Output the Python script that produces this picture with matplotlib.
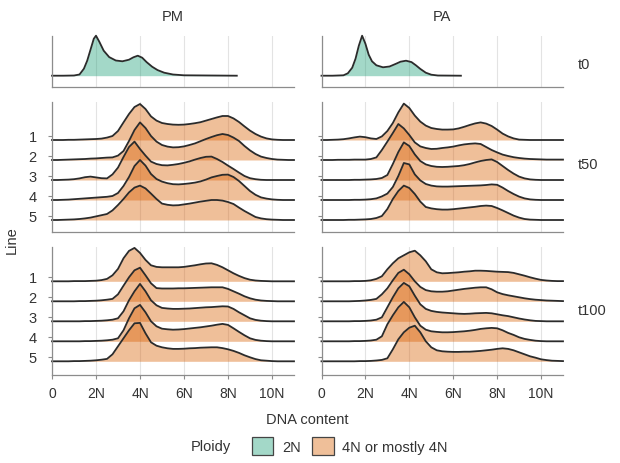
import numpy as np
import matplotlib.pyplot as plt
from matplotlib.patches import Patch
from matplotlib.colors import to_rgba

plt.rcParams['font.family'] = ['Liberation Sans', 'DejaVu Sans']
plt.rcParams['font.size'] = 10
plt.rcParams['text.color'] = '#333333'

# Dark2 pair, drawn semi transparent like ggridges
col_2n = '#1B9E77'
col_4n = '#D95F02'
fill_alpha = 0.4
line_col = '#2b2b2b'
axis_col = '#8c8c8c'
grid_col = '#e3e3e3'

conditions = ['PM', 'PA']
times = ['t0', 't50', 't100']
lines = ['1', '2', '3', '4', '5']
x_ticks = [0, 2, 4, 6, 8, 10]
x_labels = ['0', '2N', '4N', '6N', '8N', '10N']
ploidy = ['2N', '4N or mostly 4N']

# t0 ancestors (2N), density heights
t0_pm_x = [0, 0.5, 1.0, 1.25, 1.45, 1.6, 1.75, 1.9, 2.0, 2.15, 2.35, 2.6, 2.9,
           3.2, 3.5, 3.7, 3.9, 4.1, 4.3, 4.55, 4.8, 5.1, 5.5, 6.0, 8.4]
t0_pm_h = [0, 0, .01, .06, .35, .75, 1.3, 1.85, 2.0, 1.7, 1.25, .93, .76,
           .72, .8, .92, 1.0, .9, .68, .45, .28, .15, .06, .02, 0]
t0_pa_x = [0, 0.5, 1.0, 1.2, 1.4, 1.55, 1.7, 1.85, 2.0, 2.15, 2.3, 2.5, 2.8,
           3.1, 3.4, 3.6, 3.85, 4.1, 4.3, 4.5, 4.75, 5.0, 5.3, 6.35]
t0_pa_h = [0, 0, .02, .12, .4, .85, 1.5, 2.0, 1.6, 1.05, .72, .52, .42,
           .46, .6, .7, .75, .68, .52, .34, .15, .05, .01, 0]

# evolved lines, heights every 0.25N from 0 to 11N
x_grid = np.arange(0, 11.001, 0.25)

pm_t50 = [
    [0, 0, 0, .01, .01, .02, .03, .04, .05, .07, .12, .2,
     .45, .88, 1.3, 1.65, 1.8, 1.55, 1.18, .97, .85, .8, .77, .76,
     .77, .8, .84, .89, .97, 1.05, 1.13, 1.2, 1.2, 1.08, .9, .68,
     .47, .3, .17, .08, .03, .01, 0, 0, 0],
    [0, 0, .01, .02, .03, .04, .05, .07, .08, .1, .12, .13,
     .22, .45, .95, 1.5, 1.88, 1.6, 1.2, .92, .75, .67, .63, .64,
     .68, .75, .83, .94, 1.05, 1.15, 1.24, 1.3, 1.25, 1.12, .95, .7,
     .48, .3, .17, .1, .05, .02, .01, 0, 0],
    [0, 0, .01, .02, .04, .08, .14, .17, .13, .09, .08, .28,
     .62, 1.15, 1.65, 1.92, 1.55, 1.22, .92, .8, .74, .73, .76, .8,
     .86, .93, 1.02, 1.1, 1.16, 1.17, 1.05, .9, .72, .55, .37, .2,
     .09, .04, .01, 0, 0, 0, 0, 0, 0],
    [0, 0, .01, .02, .04, .06, .08, .1, .12, .14, .16, .2,
     .35, .7, 1.15, 1.7, 2.0, 1.72, 1.3, 1.05, .92, .84, .79, .78,
     .8, .83, .87, .93, 1.02, 1.13, 1.2, 1.26, 1.27, 1.15, .95, .7,
     .45, .26, .13, .07, .03, .01, 0, 0, 0],
    [0, 0, .01, .02, .03, .05, .08, .12, .18, .24, .3, .48,
     .75, 1.05, 1.38, 1.62, 1.72, 1.58, 1.32, 1.05, .82, .76, .73, .74,
     .78, .82, .87, .92, .96, 1.0, 1.0, .97, .9, .8, .62, .45,
     .3, .15, .08, .04, .02, .01, 0, 0, 0],
]

pa_t50 = [
    [0, 0, .01, .02, .04, .08, .13, .17, .14, .08, .05, .18,
     .45, .85, 1.38, 1.82, 1.6, 1.22, .92, .72, .6, .55, .52, .52,
     .53, .58, .66, .75, .83, .88, .82, .7, .52, .32, .18, .08,
     .02, .01, 0, 0, 0, 0, 0, 0, 0],
    [0, 0, 0, .01, .01, .01, .02, .02, .02, .05, .13, .5,
     .92, 1.35, 1.8, 1.58, 1.25, .88, .68, .6, .55, .56, .6, .63,
     .67, .73, .78, .81, .83, .8, .65, .5, .38, .27, .2, .14,
     .1, .07, .05, .04, .03, .02, .02, .02, .02],
    [0, 0, 0, 0, 0, 0, .01, .01, .02, .03, .05, .1,
     .25, .8, 1.4, 1.88, 1.7, 1.28, .95, .78, .7, .66, .65, .66,
     .68, .7, .74, .8, .88, .95, 1.0, 1.03, .9, .7, .5, .32,
     .17, .08, .03, .01, 0, 0, 0, 0, 0],
    [0, 0, 0, 0, 0, 0, .01, .01, .02, .04, .08, .18,
     .32, .65, 1.2, 1.85, 1.78, 1.28, .98, .8, .72, .68, .67, .67,
     .68, .69, .7, .71, .72, .73, .75, .78, .76, .62, .45, .3,
     .17, .08, .03, .01, 0, 0, 0, 0, 0],
    [0, 0, 0, 0, 0, .01, .01, .02, .03, .05, .1, .2,
     .55, 1.05, 1.45, 1.72, 1.6, 1.3, .92, .65, .58, .54, .52, .52,
     .54, .57, .6, .63, .66, .7, .72, .7, .6, .48, .35, .22,
     .12, .05, .02, .01, 0, 0, 0, 0, 0],
]

pm_t100 = [
    [0, 0, 0, 0, .01, .01, .01, .02, .03, .06, .12, .3,
     .62, 1.15, 1.52, 1.67, 1.42, 1.07, .8, .72, .7, .7, .7, .7,
     .72, .76, .8, .85, .89, .9, .82, .7, .55, .4, .27, .16,
     .08, .04, .02, .01, 0, 0, 0, 0, 0],
    [0, 0, 0, 0, 0, .01, .01, .02, .03, .05, .08, .12,
     .35, .78, 1.2, 1.55, 1.68, 1.3, .9, .66, .64, .64, .64, .65,
     .65, .66, .67, .68, .69, .7, .7, .7, .62, .5, .38, .25,
     .15, .08, .04, .02, .01, 0, 0, 0, 0],
    [0, 0, 0, 0, 0, 0, .01, .01, .02, .03, .05, .08,
     .15, .5, 1.05, 1.5, 1.87, 1.5, 1.05, .8, .67, .64, .62, .62,
     .63, .64, .66, .68, .7, .71, .73, .75, .74, .62, .45, .3,
     .15, .07, .03, .01, 0, 0, 0, 0, 0],
    [0, 0, 0, 0, 0, 0, .01, .01, .02, .03, .05, .08,
     .15, .55, 1.15, 1.65, 1.82, 1.45, 1.0, .75, .63, .6, .58, .59,
     .61, .64, .67, .7, .74, .78, .83, .87, .82, .65, .47, .3,
     .15, .07, .03, .01, 0, 0, 0, 0, 0],
    [0, 0, 0, 0, .01, .01, .02, .03, .05, .08, .12, .35,
     .75, 1.15, 1.55, 1.9, 1.92, 1.4, .95, .78, .7, .65, .62, .62,
     .63, .65, .66, .68, .69, .7, .7, .66, .6, .52, .42, .3,
     .2, .11, .05, .03, .01, 0, 0, 0, 0],
]

pa_t100 = [
    [0, 0, 0, 0, 0, 0, .01, .01, .02, .05, .12, .25,
     .6, .9, 1.15, 1.3, 1.45, 1.53, 1.3, 1.0, .6, .45, .4, .41,
     .43, .45, .48, .5, .53, .53, .52, .5, .48, .47, .46, .42,
     .35, .28, .2, .13, .07, .04, .02, .01, .01],
    [0, 0, 0, 0, 0, 0, .01, .02, .04, .07, .12, .35,
     .65, 1.05, 1.42, 1.58, 1.35, 1.0, .72, .56, .5, .48, .48, .5,
     .54, .58, .62, .65, .68, .7, .7, .6, .45, .36, .3, .25,
     .2, .15, .11, .08, .06, .04, .03, .02, .01],
    [0, 0, 0, 0, 0, 0, .01, .01, .02, .04, .08, .2,
     .7, 1.2, 1.65, 1.92, 1.75, 1.28, .85, .62, .52, .47, .44, .42,
     .4, .38, .37, .38, .4, .41, .42, .4, .35, .3, .26, .2,
     .14, .09, .05, .02, .01, 0, 0, 0, 0],
    [0, 0, 0, 0, 0, 0, .01, .01, .02, .04, .08, .25,
     .85, 1.3, 1.7, 1.97, 1.7, 1.2, .78, .58, .5, .47, .45, .45,
     .46, .48, .5, .53, .57, .62, .65, .67, .65, .55, .42, .32,
     .2, .12, .07, .03, .01, 0, 0, 0, 0],
    [0, 0, 0, 0, 0, 0, 0, .01, .01, .02, .04, .07,
     .15, .6, 1.1, 1.45, 1.68, 1.78, 1.45, 1.0, .7, .55, .5, .48,
     .47, .47, .48, .48, .5, .52, .55, .58, .62, .65, .62, .55,
     .45, .35, .25, .18, .1, .06, .03, .02, .01],
]

ridge_data = {('PM', 't50'): pm_t50, ('PA', 't50'): pa_t50,
              ('PM', 't100'): pm_t100, ('PA', 't100'): pa_t100}
t0_data = {'PM': (t0_pm_x, t0_pm_h), 'PA': (t0_pa_x, t0_pa_h)}

# panel geometry in pixels (left, right) / (top, bottom) and y ranges
W, H = 620, 464
col_px = {'PM': (52, 294), 'PA': (321.5, 563)}
row_px = {'t0': (37, 88), 't50': (103, 233), 't100': (248, 376)}
row_ylim = {'t0': (-0.565, 1.985), 't50': (-0.6, 5.9), 't100': (-0.685, 5.715)}
tick_shift = 0.22  # ticks sit a little above each baseline


def ridge(ax, x, h, base, color):
    x = np.asarray(x, dtype=float)
    top = base + np.asarray(h, dtype=float)
    ax.fill_between(x, base, top, color=color, alpha=fill_alpha, lw=0)
    ax.plot(x, top, color=line_col, lw=1.3, solid_joinstyle='round', clip_on=False)


fig = plt.figure(figsize=(6.2, 4.64), dpi=100)

for cond in conditions:
    x0, x1 = col_px[cond]
    for t in times:
        y0, y1 = row_px[t]
        ax = fig.add_axes([x0 / W, 1 - y1 / H, (x1 - x0) / W, (y1 - y0) / H])
        ax.set_xlim(0, 11)
        ax.set_ylim(*row_ylim[t])

        if t == 't0':
            xs, hs = t0_data[cond]
            ridge(ax, xs, hs, 0, col_2n)
            ax.set_yticks([])
        else:
            curves = ridge_data[(cond, t)]
            bases = [len(lines) - 1 - i for i in range(len(lines))]
            for h, b in zip(curves, bases):
                assert len(h) == len(x_grid)
                ridge(ax, x_grid, h, b, col_4n)
            ax.set_yticks([b + tick_shift for b in bases])
            if cond == 'PM':
                ax.set_yticklabels(lines, fontsize=10.5, color='#333333')
            else:
                ax.set_yticklabels([])
            ax.tick_params(axis='y', length=3, width=0.8, color=axis_col, pad=8)

        ax.set_xticks(x_ticks)
        ax.grid(axis='x', color=grid_col, lw=0.8)
        ax.set_axisbelow(True)
        if t == 't100':
            ax.set_xticklabels(x_labels, fontsize=10, color='#333333')
            ax.tick_params(axis='x', length=3, width=0.8, color=axis_col, pad=5)
        else:
            ax.tick_params(axis='x', length=0, labelbottom=False)

        for side in ['top', 'right']:
            ax.spines[side].set_visible(False)
        for side in ['left', 'bottom']:
            ax.spines[side].set_color(axis_col)
            ax.spines[side].set_linewidth(0.9)

# facet strips
fig.text(173 / W, 1 - 17 / H, 'PM', ha='center', va='center', fontsize=10.5)
fig.text(442 / W, 1 - 17 / H, 'PA', ha='center', va='center', fontsize=10.5)
for t, yc in zip(times, [65, 165, 311]):
    fig.text(578 / W, 1 - yc / H, t, ha='left', va='center', fontsize=10.5)

fig.text(12 / W, 1 - 240 / H, 'Line', rotation=90, ha='center', va='center', fontsize=10.5)
fig.text(307 / W, 1 - 420 / H, 'DNA content', ha='center', va='center', fontsize=10.5)

# legend
fig.text(211 / W, 1 - 447 / H, 'Ploidy', ha='center', va='center', fontsize=10.5)
handles = [Patch(facecolor=to_rgba(c, fill_alpha), edgecolor='#444444', lw=0.9, label=lab)
           for c, lab in zip([col_2n, col_4n], ploidy)]
fig.legend(handles=handles, loc='center', bbox_to_anchor=(350 / W, 1 - 447 / H),
           ncol=2, frameon=False, fontsize=10.5, handlelength=1.45, handleheight=1.6,
           handletextpad=0.6, columnspacing=0.8, borderpad=0)

fig.savefig('out.png', dpi=100)
